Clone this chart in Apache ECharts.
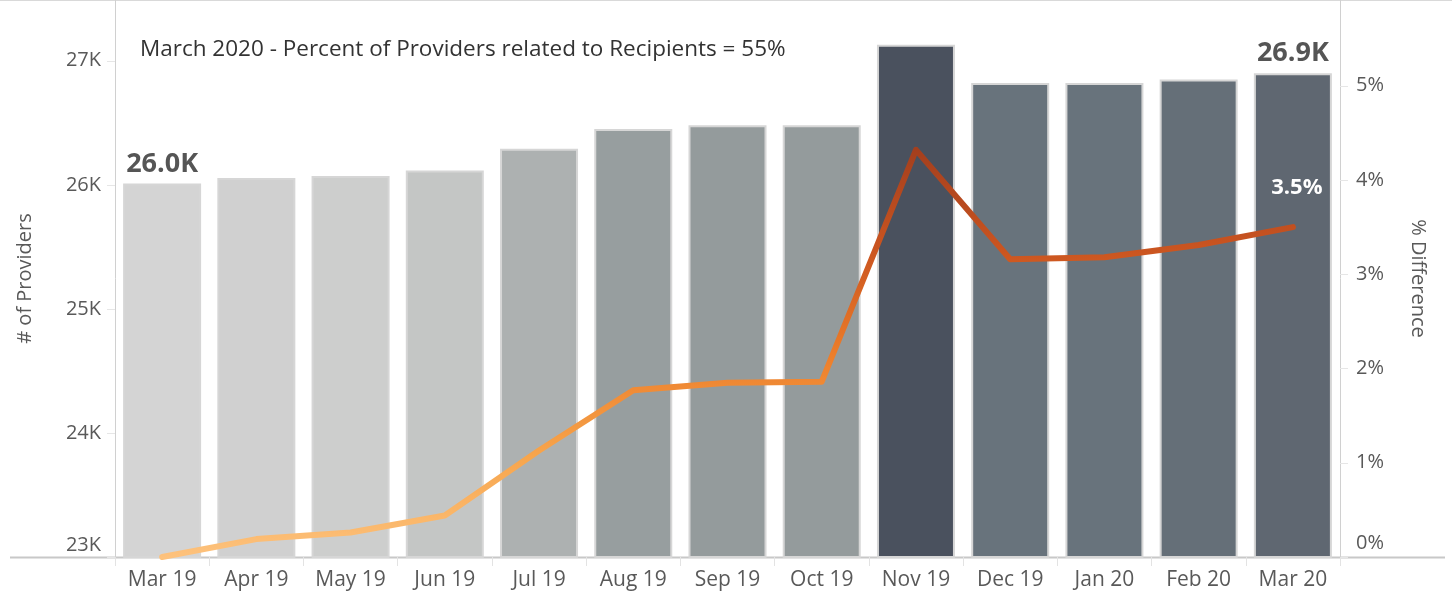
<!DOCTYPE html>
<html>
<head>
<meta charset="utf-8">
<script src="https://cdn.jsdelivr.net/npm/echarts@6/dist/echarts.min.js"></script>
<style>
  html, body { margin: 0; padding: 0; background: #fff; }
  #chart { width: 1452px; height: 595px; }
</style>
</head>
<body>
<div id="chart"></div>
<script>
// Monthly provider counts and the % difference versus March 2019
const months = ['Mar 19', 'Apr 19', 'May 19', 'Jun 19', 'Jul 19', 'Aug 19', 'Sep 19',
                'Oct 19', 'Nov 19', 'Dec 19', 'Jan 20', 'Feb 20', 'Mar 20'];
const providers = [26010, 26055, 26072, 26115, 26290, 26450, 26480,
                   26480, 27130, 26820, 26820, 26850, 26900];
const pctDiff = [0.00, 0.19, 0.26, 0.44, 1.13, 1.77, 1.85,
                 1.86, 4.32, 3.16, 3.18, 3.31, 3.50];
const leftTicks = { min: 23000, max: 27490, step: 1000 };
const rightTicks = { min: 0, max: 5.91, step: 1 };
const headline = 'March 2020 - Percent of Providers related to Recipients = 55%';

const FONT = '"Open Sans", "DejaVu Sans", sans-serif';
const TEXT = '#595959';

// grey ramp for bars, darker for higher counts
const barRamp = [
  [26000, '#d5d5d5'], [26060, '#cfd0cf'], [26115, '#c4c6c5'], [26290, '#adb1b1'],
  [26450, '#979e9f'], [26480, '#949b9c'], [26820, '#68737c'], [26900, '#5f6771'],
  [27130, '#4a515e']
];
function hexToRgb(h) { return [1, 3, 5].map(i => parseInt(h.slice(i, i + 2), 16)); }
function rampColor(ramp, v) {
  if (v <= ramp[0][0]) return ramp[0][1];
  for (let i = 1; i < ramp.length; i++) {
    if (v <= ramp[i][0]) {
      const [v0, c0] = ramp[i - 1], [v1, c1] = ramp[i];
      const t = (v - v0) / (v1 - v0);
      const a = hexToRgb(c0), b = hexToRgb(c1);
      return 'rgb(' + a.map((x, k) => Math.round(x + (b[k] - x) * t)).join(',') + ')';
    }
  }
  return ramp[ramp.length - 1][1];
}

const lastIdx = months.length - 1;
const barData = providers.map((v, i) => ({
  value: v,
  itemStyle: { color: rampColor(barRamp, v) },
  label: { show: i === 0 || i === lastIdx }
}));
const lineData = pctDiff.map((v, i) => ({
  value: v,
  label: { show: i === lastIdx }
}));

const chart = echarts.init(document.getElementById('chart'), null, { renderer: 'canvas' });
chart.setOption({
  animation: false,
  backgroundColor: '#ffffff',
  textStyle: { fontFamily: FONT },
  title: {
    text: headline,
    left: 135, top: 33,
    textStyle: { fontFamily: FONT, fontSize: 22.5, fontWeight: 'normal', color: '#333333' }
  },
  grid: { left: 115, right: 112, top: 0, bottom: 38, containLabel: false },
  graphic: [
    { type: 'line', silent: true, shape: { x1: 0, y1: 0.5, x2: 1452, y2: 0.5 },
      style: { stroke: '#d9d9d9', lineWidth: 1 }, z: 0 },
    { type: 'line', silent: true, shape: { x1: 10, y1: 557.5, x2: 1445, y2: 557.5 },
      style: { stroke: '#c8c8c8', lineWidth: 2 }, z: 0 }
  ],
  visualMap: [{
    type: 'continuous', show: false, seriesIndex: 1, dimension: 1,
    min: 0, max: 4.32,
    inRange: { color: ['#fdc27d', '#f7a54c', '#ec7d2a', '#cb5520', '#a43f1e'] }
  }],
  xAxis: {
    type: 'category',
    data: months,
    boundaryGap: true,
    axisLine: { show: false },
    axisTick: { show: true, length: 9, lineStyle: { color: '#e3e3e3', width: 1 } },
    axisLabel: { color: TEXT, fontSize: 21, fontFamily: FONT, margin: 13 }
  },
  yAxis: [{
    type: 'value',
    position: 'left',
    min: leftTicks.min, max: leftTicks.max, interval: leftTicks.step,
    name: '# of Providers',
    nameLocation: 'middle', nameGap: 80, nameRotate: 90,
    nameTextStyle: { color: TEXT, fontSize: 20, fontFamily: FONT },
    axisLine: { show: true, lineStyle: { color: '#d0d0d0', width: 1 } },
    axisTick: { show: true, length: 8, lineStyle: { color: '#e6e6e6' } },
    splitLine: { show: false },
    axisLabel: {
      color: TEXT, fontSize: 20, fontFamily: FONT, margin: 14,
      showMaxLabel: false,
      formatter: v => v === leftTicks.min ? '{lo|' + (v / 1000) + 'K}' : (v / 1000) + 'K',
      rich: { lo: { color: TEXT, fontSize: 20, fontFamily: FONT, padding: [0, 0, 24, 0] } }
    }
  }, {
    type: 'value',
    position: 'right',
    min: rightTicks.min, max: rightTicks.max, interval: rightTicks.step,
    name: '% Difference',
    nameLocation: 'middle', nameGap: 68, nameRotate: -90,
    nameTextStyle: { color: TEXT, fontSize: 20, fontFamily: FONT },
    axisLine: { show: true, lineStyle: { color: '#d0d0d0', width: 1 } },
    axisTick: { show: true, length: 8, lineStyle: { color: '#e6e6e6' } },
    splitLine: { show: false },
    axisLabel: {
      color: TEXT, fontSize: 20, fontFamily: FONT, margin: 16,
      showMaxLabel: false,
      formatter: v => v === rightTicks.min ? '{lo|' + v + '%}' : v + '%',
      rich: { lo: { color: TEXT, fontSize: 20, fontFamily: FONT, padding: [0, 0, 28, 0] } }
    }
  }],
  series: [{
    type: 'bar',
    yAxisIndex: 0,
    data: barData,
    barWidth: 78,
    itemStyle: { borderColor: '#d6d6d6', borderWidth: 2 },
    label: {
      show: false, position: 'top', distance: 6,
      color: '#555555', fontSize: 27, fontWeight: 'bold', fontFamily: FONT,
      formatter: p => (p.value / 1000).toFixed(1) + 'K'
    },
    z: 2
  }, {
    type: 'line',
    yAxisIndex: 1,
    data: lineData,
    showSymbol: true,
    symbol: 'circle',
    symbolSize: 0,
    lineStyle: { width: 6, join: 'round', cap: 'round' },
    label: {
      show: false, position: 'top', distance: 28, offset: [4, 0],
      color: '#ffffff', fontSize: 22, fontWeight: 'bold', fontFamily: FONT,
      formatter: p => p.value.toFixed(1) + '%'
    },
    z: 3
  }]
});
</script>
</body>
</html>
